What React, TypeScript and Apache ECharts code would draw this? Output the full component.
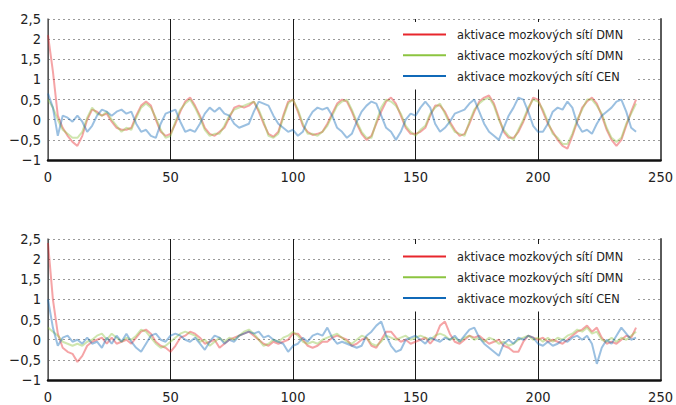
import React, { useEffect, useRef } from "react";
import * as echarts from "echarts";

// sampling step of the time axis (scan index)
const STEP = 2;

// Horní graf (top panel)
const topDmnRed = [
  2.1, 1.2, 0.1, -0.2, -0.4, -0.55, -0.65, -0.4, 0.0, 0.25, 0.2, 0.1, 0.15, -0.05, -0.2, -0.25, -0.25, -0.2, 0.1, 0.35,
  0.45, 0.35, 0.0, -0.3, -0.4, -0.35, -0.1, 0.2, 0.45, 0.55, 0.35, 0.1, -0.2, -0.35, -0.4, -0.3, -0.2, 0.05, 0.3, 0.35,
  0.3, 0.35, 0.45, 0.2, -0.1, -0.35, -0.42, -0.3, 0.1, 0.45, 0.5, 0.2, -0.15, -0.3, -0.38, -0.35, -0.3, -0.1, 0.15, 0.4,
  0.5, 0.45, 0.2, -0.1, -0.35, -0.5, -0.4, -0.1, 0.2, 0.45, 0.55, 0.4, 0.1, -0.2, -0.35, -0.35, -0.3, -0.2, 0.1, 0.35,
  0.35, 0.2, -0.05, -0.25, -0.4, -0.35, -0.1, 0.2, 0.45, 0.55, 0.6, 0.4, 0.05, -0.3, -0.45, -0.45, -0.3, -0.05, 0.25, 0.55,
  0.5, 0.2, -0.1, -0.3, -0.5, -0.65, -0.72, -0.4, -0.05, 0.3, 0.45, 0.55, 0.4, 0.1, -0.25, -0.5, -0.65, -0.5, -0.15, 0.2,
  0.5,
];
const topDmnGreen = [
  0.5, 0.3, 0.0, -0.25, -0.35, -0.45, -0.45, -0.3, 0.05, 0.3, 0.15, 0.1, 0.2, 0.0, -0.15, -0.3, -0.2, -0.25, 0.05, 0.3,
  0.4, 0.3, 0.05, -0.25, -0.45, -0.4, -0.05, 0.25, 0.4, 0.5, 0.3, 0.05, -0.25, -0.4, -0.35, -0.35, -0.15, 0.1, 0.25, 0.3,
  0.35, 0.4, 0.45, 0.25, -0.05, -0.4, -0.45, -0.35, 0.05, 0.4, 0.5, 0.25, -0.1, -0.35, -0.35, -0.4, -0.3, -0.15, 0.1, 0.35,
  0.45, 0.5, 0.25, -0.05, -0.3, -0.45, -0.45, -0.05, 0.3, 0.5, 0.45, 0.35, 0.15, -0.15, -0.3, -0.4, -0.25, -0.15, 0.15, 0.3,
  0.4, 0.15, -0.1, -0.3, -0.35, -0.4, -0.05, 0.25, 0.4, 0.5, 0.55, 0.35, 0.0, -0.25, -0.4, -0.5, -0.25, 0.0, 0.3, 0.5,
  0.45, 0.25, -0.05, -0.35, -0.45, -0.6, -0.6, -0.35, 0.0, 0.25, 0.5, 0.5, 0.35, 0.15, -0.2, -0.45, -0.55, -0.45, -0.1, 0.15,
  0.4,
];
const topCenBlue = [
  0.65, 0.3, -0.4, 0.1, 0.05, -0.05, 0.1, -0.05, -0.3, -0.15, 0.1, 0.25, 0.2, 0.1, 0.2, 0.25, 0.15, 0.2, -0.1, -0.3,
  -0.25, -0.4, -0.45, -0.1, 0.15, 0.2, 0.25, -0.05, -0.3, -0.25, -0.3, -0.1, 0.15, 0.3, 0.2, 0.3, 0.15, 0.1, -0.1, -0.2,
  -0.15, -0.1, 0.2, 0.45, 0.4, 0.35, 0.1, -0.1, -0.2, -0.3, -0.25, -0.4, -0.3, 0.0, 0.2, 0.3, 0.25, 0.3, 0.1, -0.2,
  -0.3, -0.45, -0.35, -0.05, 0.2, 0.35, 0.45, 0.4, 0.1, -0.2, -0.3, -0.5, -0.3, 0.0, 0.15, 0.1, 0.3, 0.45, 0.3, -0.1,
  -0.3, -0.2, -0.05, 0.15, 0.2, 0.25, 0.4, 0.5, 0.2, -0.1, -0.3, -0.4, -0.5, -0.2, 0.1, 0.3, 0.55, 0.5, 0.2, -0.15,
  -0.3, -0.3, -0.1, 0.2, 0.3, 0.25, 0.45, 0.3, -0.1, -0.3, -0.25, -0.35, -0.1, 0.1, 0.2, 0.3, 0.45, 0.5, 0.2, -0.2,
  -0.3,
];

// Dolní graf (bottom panel)
const botDmnRed = [
  2.4, 1.0, 0.15, -0.2, -0.3, -0.35, -0.55, -0.4, -0.15, -0.05, 0.0, 0.05, -0.1, 0.05, -0.1, -0.05, 0.0, -0.1, 0.05, 0.2,
  0.25, 0.15, -0.05, -0.15, -0.2, -0.3, -0.15, 0.05, 0.1, 0.2, 0.15, 0.05, -0.1, -0.05, 0.0, -0.2, -0.1, 0.0, 0.05, 0.1,
  0.15, 0.2, 0.1, 0.0, -0.1, -0.15, -0.05, -0.1, -0.05, 0.0, 0.15, 0.15, 0.0, -0.15, -0.2, -0.15, -0.05, -0.05, 0.05, 0.1,
  0.05, 0.0, -0.15, -0.1, 0.0, 0.05, -0.15, -0.2, 0.0, 0.2, 0.2, 0.05, -0.05, 0.0, -0.1, -0.05, 0.0, 0.05, -0.1, 0.05,
  0.35, 0.45, 0.15, -0.05, -0.1, 0.0, 0.1, 0.05, 0.1, 0.0, -0.1, -0.05, 0.0, -0.15, -0.2, -0.3, -0.3, -0.05, 0.1, 0.05,
  0.0, 0.05, -0.05, 0.0, -0.05, -0.1, 0.0, 0.1, 0.2, 0.25, 0.35, 0.2, 0.3, 0.05, -0.1, -0.05, -0.1, 0.0, 0.1, 0.05,
  0.3,
];
const botDmnGreen = [
  0.3, 0.2, 0.1, -0.05, -0.1, -0.15, -0.1, -0.15, -0.05, 0.0, 0.1, 0.15, 0.0, 0.15, 0.05, -0.05, 0.05, 0.0, 0.1, 0.25,
  0.2, 0.05, -0.1, -0.2, -0.15, -0.05, 0.05, 0.15, 0.2, 0.15, 0.1, -0.05, 0.0, -0.15, -0.05, 0.05, -0.05, 0.05, 0.0, 0.1,
  0.2, 0.25, 0.15, 0.0, -0.15, -0.1, 0.0, -0.05, 0.05, 0.1, 0.2, 0.1, -0.05, -0.1, -0.05, -0.1, 0.0, 0.05, 0.1, 0.15,
  0.05, -0.05, -0.1, 0.0, 0.1, 0.05, -0.1, -0.15, -0.05, 0.1, 0.05, 0.0, 0.05, 0.1, 0.0, 0.05, 0.1, 0.05, 0.0, 0.1,
  0.15, 0.1, 0.0, 0.05, -0.05, 0.05, 0.1, 0.0, 0.05, -0.05, 0.05, 0.0, -0.1, -0.05, -0.15, -0.1, 0.0, 0.05, 0.1, 0.0,
  0.05, -0.05, 0.05, -0.05, 0.05, 0.0, 0.1, 0.15, 0.25, 0.2, 0.3, 0.15, 0.2, 0.0, -0.05, 0.05, -0.05, 0.05, 0.0, 0.1,
  0.2,
];
const botCenBlue = [
  1.0, 0.3, -0.15, 0.05, 0.1, -0.05, 0.0, -0.1, 0.05, -0.1, -0.05, -0.2, 0.05, -0.1, 0.1, -0.05, 0.15, -0.05, -0.2, -0.3,
  -0.1, 0.1, 0.15, 0.0, -0.05, 0.1, 0.15, 0.1, 0.0, -0.05, 0.05, -0.1, -0.25, -0.05, 0.1, 0.05, -0.1, 0.0, -0.05, 0.1,
  0.15, 0.2, 0.15, 0.2, 0.05, 0.1, 0.0, -0.05, -0.1, -0.3, -0.15, -0.1, 0.05, -0.05, 0.1, 0.15, 0.1, 0.3, 0.05, -0.1,
  -0.05, -0.1, -0.15, -0.2, -0.15, 0.1, 0.2, 0.35, 0.45, 0.1, -0.15, -0.3, -0.25, 0.0, 0.05, 0.1, 0.0, -0.1, 0.05, 0.0,
  -0.05, 0.05, 0.0, 0.1, -0.05, 0.1, 0.25, 0.3, 0.05, -0.1, -0.2, -0.3, -0.4, -0.1, 0.0, -0.1, 0.05, 0.0, 0.1, 0.05,
  -0.1, -0.15, -0.05, -0.15, -0.1, 0.0, -0.05, 0.05, 0.1, 0.0, 0.1, -0.1, -0.6, -0.2, 0.0, -0.1, 0.1, 0.3, 0.15, 0.0,
  0.05,
];

const seriesKeys = ["DMN1", "DMN2", "CEN"];
const legendLabels = ["aktivace mozkových sítí DMN", "aktivace mozkových sítí DMN", "aktivace mozkových sítí CEN"];
const seriesColors = ["#e8262c", "#8cc440", "#1069b8"];

const yTicks = [-1, -0.5, 0, 0.5, 1, 1.5, 2, 2.5];
const yTickLabels = ["\u22121", "\u22120,5", "0", "0,5", "1", "1,5", "2", "2,5"];
const xTicks = [0, 50, 100, 150, 200, 250];
const xTickLabels = ["0", "50", "100", "150", "200", "250"];

const FONT = "'DejaVu Sans Condensed', 'Liberation Sans', sans-serif";

const toPairs = (vals: number[]) => vals.map((v, i) => [i * STEP, v]);

export default function App() {
  const ref = useRef<HTMLDivElement>(null);
  useEffect(() => {
    if (!ref.current) return;
    const chart = echarts.init(ref.current, null, { renderer: "svg" });
    const grids = [
      { left: 48, top: 19, width: 617, height: 141 },
      { left: 48, top: 239, width: 617, height: 141 },
    ];
    const xAxes: any[] = [];
    const yAxes: any[] = [];
    grids.forEach((_, gi) => {
      xAxes.push({
        type: "value",
        gridIndex: gi,
        min: xTicks[0],
        max: xTicks[xTicks.length - 1],
        interval: 50,
        axisLine: { show: true, onZero: false, lineStyle: { color: "#111", width: 2.5 } },
        axisTick: { show: false },
        axisLabel: {
          margin: 9,
          fontFamily: FONT,
          fontSize: 14.5,
          color: "#222",
          formatter: (v: number) => xTickLabels[xTicks.indexOf(v)] ?? "",
        },
        splitLine: { show: true, lineStyle: { color: "#1a1a1a", width: 1, type: "solid" } },
      });
      yAxes.push({
        type: "value",
        gridIndex: gi,
        min: -1,
        max: 2.5,
        interval: 0.5,
        axisLine: { show: true, onZero: false, lineStyle: { color: "#6a6a6a", width: 1.5 } },
        axisTick: { show: false },
        axisLabel: {
          margin: 7,
          fontFamily: FONT,
          fontSize: 14.5,
          color: "#222",
          formatter: (v: number) => {
            const idx = yTicks.findIndex((t) => Math.abs(t - v) < 1e-9);
            return idx >= 0 ? yTickLabels[idx] : "";
          },
        },
        splitLine: { show: true, lineStyle: { color: "#9a9a9a", width: 1, type: [2, 3] } },
      });
      yAxes.push({
        type: "value",
        gridIndex: gi,
        position: "right",
        min: -1,
        max: 2.5,
        interval: 0.5,
        axisLine: { show: true, onZero: false, lineStyle: { color: "#5a5a5a", width: 2 } },
        axisTick: { show: false },
        axisLabel: { show: false },
        splitLine: { show: false },
      });
    });

    const panels = [
      [topDmnRed, topDmnGreen, topCenBlue],
      [botDmnRed, botDmnGreen, botCenBlue],
    ];
    const series: any[] = [];
    panels.forEach((vals, gi) => {
      vals.forEach((arr, si) => {
        series.push({
          type: "line",
          name: seriesKeys[si],
          xAxisIndex: gi,
          yAxisIndex: gi * 2,
          data: toPairs(arr),
          showSymbol: false,
          symbol: "none",
          color: seriesColors[si],
          lineStyle: { width: 2, color: seriesColors[si], opacity: 0.42 },
          itemStyle: { color: seriesColors[si] },
          z: 3,
        });
      });
    });

    const legendTops = [22, 244];
    const legends = legendTops.map((top) => ({
      orient: "vertical",
      left: 392,
      top,
      padding: [5, 12, 6, 11],
      backgroundColor: "#ffffff",
      data: seriesKeys,
      icon: "rect",
      itemWidth: 43,
      itemHeight: 2,
      itemGap: 5.8,
      selectedMode: false,
      formatter: (name: string) => legendLabels[seriesKeys.indexOf(name)],
      textStyle: { fontFamily: FONT, fontSize: 12.6, color: "#222", lineHeight: 15, padding: [0, 0, 0, 6] },
      z: 10,
    }));

    chart.setOption({
      animation: false,
      backgroundColor: "#ffffff",
      grid: grids,
      xAxis: xAxes,
      yAxis: yAxes,
      legend: legends,
      series,
    });
    return () => chart.dispose();
  }, []);
  return <div ref={ref} style={{ position: "absolute", left: 0, top: 0, width: 676, height: 405 }} />;
}
